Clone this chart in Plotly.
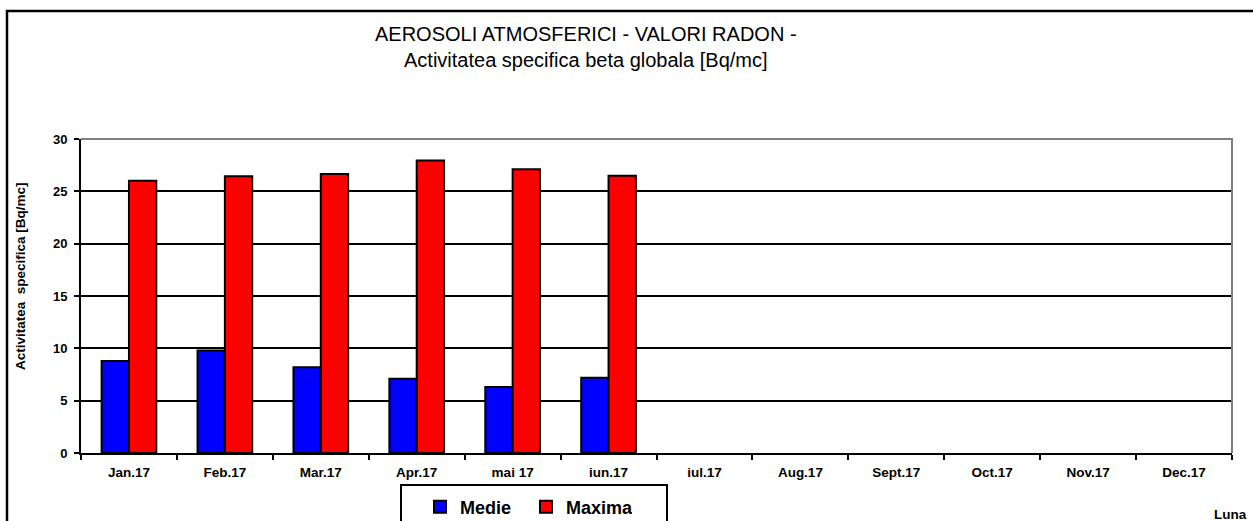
"""Aerosoli atmosferici - valori radon, activitatea specifica beta globala."""

import plotly.graph_objects as go

luni = ["Jan.17", "Feb.17", "Mar.17", "Apr.17", "mai 17", "iun.17",
        "iul.17", "Aug.17", "Sept.17", "Oct.17", "Nov.17", "Dec.17"]
medie = [8.8, 9.8, 8.2, 7.1, 6.3, 7.2, None, None, None, None, None, None]
maxima = [26.0, 26.45, 26.65, 27.95, 27.1, 26.5, None, None, None, None, None, None]

W, H = 1253, 521
L, R, T, B = 81, 21, 139, 68


def px_x(p):
    return (p - L) / (W - L - R)


def px_y(p):
    return (H - B - p) / (H - B - T)


font = "Liberation Sans, Arial, sans-serif"

fig = go.Figure()
fig.add_trace(go.Bar(x=luni, y=medie, name="Medie",
                     marker=dict(color="#0000ff", line=dict(color="black", width=2))))
fig.add_trace(go.Bar(x=luni, y=maxima, name="Maxima",
                     marker=dict(color="#ff0000", line=dict(color="black", width=2))))

fig.update_layout(
    width=W, height=H,
    margin=dict(l=L, r=R, t=T, b=B, autoexpand=False),
    paper_bgcolor="white", plot_bgcolor="white",
    barmode="group", bargap=0.43, bargroupgap=0,
    font=dict(family=font, color="black"),
    legend=dict(orientation="h", x=px_x(420), xanchor="left",
                y=px_y(507), yanchor="middle", entrywidth=61,
                font=dict(size=18, weight="bold"),
                bgcolor="rgba(0,0,0,0)"),
)

fig.update_xaxes(
    type="category", showline=True, linecolor="black", linewidth=2,
    ticks="outside", tickson="boundaries", ticklen=5, tickwidth=1.5, tickcolor="black",
    tickfont=dict(size=13.5, weight="bold"), ticklabelstandoff=6, showgrid=False,
)
fig.update_yaxes(
    range=[0, 30], dtick=5, showline=True, linecolor="black", linewidth=2,
    ticks="outside", ticklen=5, tickwidth=1.5, tickcolor="black",
    tickfont=dict(size=13, weight="bold"), ticklabelstandoff=4,
    showgrid=True, gridcolor="black", gridwidth=1.5, zeroline=False,
)

# titlu pe doua randuri
fig.add_annotation(text="AEROSOLI ATMOSFERICI - VALORI RADON -<br>"
                        "Activitatea specifica beta globala [Bq/mc]",
                   xref="paper", yref="paper",
                   x=px_x(586), y=px_y(47), xanchor="center", yanchor="middle",
                   showarrow=False, font=dict(size=20))
# titlul axei Y (mai sus decat centrul zonei de desen, ca in original)
fig.add_annotation(text="Activitatea  specifica [Bq/mc]", xref="paper", yref="paper",
                   x=px_x(20), y=px_y(276), xanchor="center", yanchor="middle",
                   textangle=-90, showarrow=False, font=dict(size=13.5, weight="bold"))
fig.add_annotation(text="Luna", xref="paper", yref="paper",
                   x=px_x(1230), y=px_y(514), xanchor="center", yanchor="middle",
                   showarrow=False, font=dict(size=13.5, weight="bold"))

# chenar gri sus/dreapta al zonei de desen
fig.add_shape(type="path", xref="paper", yref="paper", layer="above",
              path="M 0,1 L 1,1 L 1,0", line=dict(color="#808080", width=2))
# chenar exterior
fig.add_shape(type="path", xref="paper", yref="paper", layer="above",
              path=f"M {px_x(7)},{px_y(560)} L {px_x(7)},{px_y(11)} L {px_x(1290)},{px_y(11)}",
              line=dict(color="black", width=2.5))
# cadrul legendei
fig.add_shape(type="rect", xref="paper", yref="paper", layer="below",
              x0=px_x(401), x1=px_x(667), y0=px_y(560), y1=px_y(485),
              line=dict(color="black", width=2))

fig.write_html("out.html", config={"displayModeBar": False},
               post_script="document.body.style.margin='0';")
